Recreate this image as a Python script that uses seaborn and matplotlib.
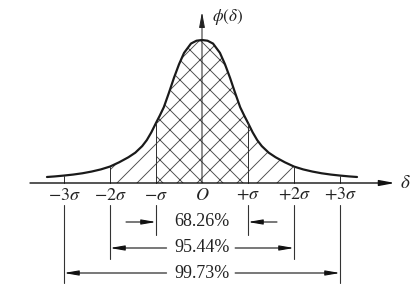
import numpy as np
import pandas as pd
import matplotlib
matplotlib.use("Agg")
import matplotlib.pyplot as plt
import seaborn as sns

# ---- data (x in sigma units, height relative to peak) ----
half_offset = [0.0, 0.12, 0.24, 0.39, 0.5, 0.61, 0.72, 0.83, 0.92, 1.0, 1.1,
               1.2, 1.3, 1.45, 1.6, 1.8, 2.0, 2.2, 2.4, 2.6, 2.8, 3.0, 3.2,
               3.37]
half_height = [1.00, 0.995, 0.975, 0.91, 0.83, 0.735, 0.63, 0.53, 0.47, 0.42,
               0.355, 0.30, 0.258, 0.212, 0.18, 0.145, 0.115, 0.095, 0.08,
               0.068, 0.059, 0.052, 0.046, 0.042]
tick_pos = [-3, -2, -1, 0, 1, 2, 3]
tick_labels = [r"$-3\sigma$", r"$-2\sigma$", r"$-\sigma$", r"$O$",
               r"$+\sigma$", r"$+2\sigma$", r"$+3\sigma$"]
band_limits = [1, 2, 3]
band_labels = ["68.26%", "95.44%", "99.73%"]

# full symmetric curve
x_vals = np.concatenate([-np.array(half_offset[:0:-1]), np.array(half_offset)])
y_vals = np.concatenate([np.array(half_height[:0:-1]), np.array(half_height)])
curve = pd.DataFrame({"x": x_vals, "y": y_vals})

DPI = 60
PX = 72.0 / DPI  # points per pixel

sns.set_theme(style="white")
plt.rcParams["font.family"] = ["Liberation Serif", "DejaVu Serif"]
plt.rcParams["mathtext.fontset"] = "stix"
plt.rcParams["hatch.linewidth"] = 0.9 * PX

fig = plt.figure(figsize=(419 / DPI, 304 / DPI), dpi=DPI)
ax = fig.add_axes([0, 0, 1, 1])
ax.set_axis_off()
ax.set_xlim(-202 / 46, (419 - 202) / 46)
ax.set_ylim(-(304 - 183) / 143, 183 / 143)

hc = "#4a4a4a"
# hatched regions
m1 = np.abs(curve["x"]) <= 1
ax.fill_between(curve["x"][m1], 0, curve["y"][m1], facecolor="none",
                edgecolor=hc, hatch="x", linewidth=0)
for sgn in (-1, 1):
    m2 = (sgn * curve["x"] >= 1) & (sgn * curve["x"] <= 2)
    ax.fill_between(curve["x"][m2], 0, curve["y"][m2], facecolor="none",
                    edgecolor=hc, hatch="/", linewidth=0)

# curve
sns.lineplot(data=curve, x="x", y="y", ax=ax, color="#1a1a1a",
             linewidth=2.2 * PX, sort=False,
             solid_joinstyle="round", solid_capstyle="round")

# vertical lines from axis to curve at +-1, +-2, +-3 sigma
lookup = dict(zip(np.round(curve["x"], 3), curve["y"]))
for t in tick_pos:
    if t == 0:
        continue
    ax.plot([t, t], [0, lookup[round(float(t), 3)]], color="#333333",
            lw=1.0 * PX)

# axes with arrows
arrow_kw = dict(arrowstyle="-|>,head_length=0.75,head_width=0.14",
                mutation_scale=17 * PX, color="#111111", lw=1.4 * PX,
                shrinkA=0, shrinkB=0)
ax.annotate("", xy=((395 - 202) / 46, 0), xytext=((30 - 202) / 46, 0),
            arrowprops=arrow_kw)
ax.annotate("", xy=(0, (183 - 12) / 143), xytext=(0, 0),
            arrowprops=dict(arrow_kw, lw=1.0 * PX, color="#222222"))
ax.text((400 - 202) / 46, 0.0, r"$\delta$", fontsize=19 * PX,
        ha="left", va="center", color="#222222")
ax.text((212 - 202) / 46, (183 - 17) / 143, r"$\phi(\delta)$",
        fontsize=17 * PX, ha="left", va="center", color="#222222")

# tick labels
for t, lab in zip(tick_pos, tick_labels):
    ax.text(t, (183 - 195) / 143, lab, fontsize=18 * PX, ha="center",
            va="center", color="#222222")

# dimension lines
ext_top = (183 - 205) / 143
ext_bot = {1: (183 - 235) / 143, 2: (183 - 259) / 143, 3: (183 - 283) / 143}
row_y = {1: (183 - 222) / 143, 2: (183 - 248) / 143, 3: (183 - 273) / 143}
for k in band_limits:
    for sgn in (-1, 1):
        ax.plot([sgn * k, sgn * k], [ext_top, ext_bot[k]], color="#333333",
                lw=1.1 * PX)

dim_kw = dict(arrowstyle="-|>,head_length=0.75,head_width=0.13",
              mutation_scale=16 * PX, color="#111111", lw=1.1 * PX,
              shrinkA=0, shrinkB=0)
text_gap = 0.72
for k, lab in zip(band_limits, band_labels):
    y = row_y[k]
    if k == 1:
        ax.annotate("", xy=(-1, y), xytext=((126 - 202) / 46, y),
                    arrowprops=dim_kw)
        ax.annotate("", xy=(1, y), xytext=((277 - 202) / 46, y),
                    arrowprops=dim_kw)
    else:
        ax.annotate("", xy=(-k, y), xytext=(-text_gap - 0.05, y),
                    arrowprops=dim_kw)
        ax.annotate("", xy=(k, y), xytext=(text_gap, y), arrowprops=dim_kw)
    ax.text(0, y, lab, fontsize=18 * PX, ha="center", va="center",
            color="#222222")

fig.savefig("out.png", dpi=DPI)
